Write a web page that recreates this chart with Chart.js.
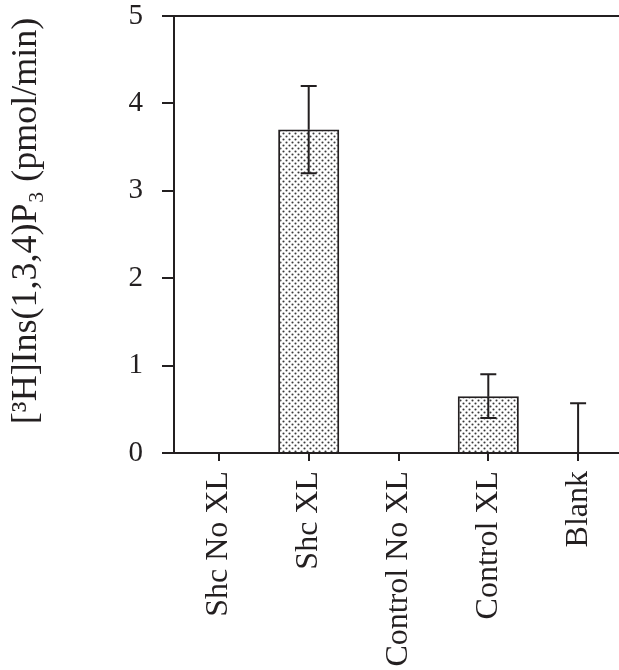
<!DOCTYPE html>
<html>
<head>
<meta charset="utf-8">
<script src="https://cdn.jsdelivr.net/npm/chart.js@4.4.0/dist/chart.umd.min.js"></script>
<style>
  html, body { margin: 0; padding: 0; background: #ffffff; overflow: hidden; }
  #wrap { width: 623px; height: 670px; }
</style>
</head>
<body>
<div id="wrap"><canvas id="c" width="623" height="670"></canvas></div>
<script>
// ---- data ----
const categories = ["Shc No XL", "Shc XL", "Control No XL", "Control XL", "Blank"];
const meanValues = [0, 3.7, 0, 0.65, 0];
const errorValues = [null, 0.5, null, 0.25, 0.57];
const yTicks = [0, 1, 2, 3, 4, 5];
const yTitle = "   [³H]Ins(1,3,4)P₃ (pmol/min)";

const INK = "#231f20";
const SERIF = "'Liberation Serif', 'Times New Roman', serif";

// stipple pattern for bar fill
function makeStipple() {
  const t = document.createElement("canvas");
  t.width = 6; t.height = 6;
  const g = t.getContext("2d");
  g.fillStyle = "#ffffff";
  g.fillRect(0, 0, 6, 6);
  g.fillStyle = "#3a3a3a";
  g.beginPath(); g.arc(1.5, 1.5, 1.05, 0, Math.PI * 2); g.fill();
  g.beginPath(); g.arc(4.5, 4.5, 1.05, 0, Math.PI * 2); g.fill();
  return document.getElementById("c").getContext("2d").createPattern(t, "repeat");
}

const errorBarPlugin = {
  id: "errorBars",
  afterDatasetsDraw(chart) {
    const ctx = chart.ctx;
    const meta = chart.getDatasetMeta(0);
    const ys = chart.scales.y;
    ctx.save();
    ctx.strokeStyle = INK;
    ctx.lineWidth = 2;
    meta.data.forEach((bar, i) => {
      const err = errorValues[i];
      if (err === null || err === undefined) return;
      const v = meanValues[i];
      const x = bar.x;
      const yTop = ys.getPixelForValue(v + err);
      const yMid = ys.getPixelForValue(v);
      const cap = 8;
      ctx.beginPath();
      ctx.moveTo(x, yTop); ctx.lineTo(x, yMid);
      ctx.moveTo(x - cap, yTop); ctx.lineTo(x + cap, yTop);
      ctx.stroke();
      if (v - err > 0) {
        const yBot = ys.getPixelForValue(v - err);
        ctx.beginPath();
        ctx.moveTo(x, yMid); ctx.lineTo(x, yBot);
        ctx.moveTo(x - cap, yBot); ctx.lineTo(x + cap, yBot);
        ctx.stroke();
      }
    });
    ctx.restore();
  }
};

const frameLines = {
  id: "frameLines",
  afterDraw(chart) {
    const ctx = chart.ctx;
    const a = chart.chartArea;
    ctx.save();
    ctx.strokeStyle = INK;
    ctx.lineWidth = 2;
    ctx.beginPath();
    ctx.moveTo(a.left - 12, a.top);
    ctx.lineTo(chart.width, a.top);
    ctx.moveTo(a.left - 12, a.bottom);
    ctx.lineTo(chart.width, a.bottom);
    ctx.stroke();
    ctx.restore();
  }
};

new Chart(document.getElementById("c"), {
  type: "bar",
  data: {
    labels: categories,
    datasets: [{
      data: meanValues,
      backgroundColor: makeStipple(),
      borderColor: INK,
      borderWidth: 2,
      borderSkipped: "bottom",
      barPercentage: 0.68,
      categoryPercentage: 1.0
    }]
  },
  options: {
    responsive: false,
    animation: false,
    devicePixelRatio: 1,
    layout: { padding: { top: 0, left: 0, right: 0, bottom: 0 } },
    plugins: { legend: { display: false }, tooltip: { enabled: false } },
    scales: {
      x: {
        grid: { display: true, drawOnChartArea: false, offset: false, tickLength: 8, color: INK, lineWidth: 2 },
        border: { display: true, color: INK, width: 2 },
        ticks: {
          color: INK,
          font: { family: SERIF, size: 32, lineHeight: 1.0 },
          maxRotation: 90, minRotation: 90, padding: 10, autoSkip: false
        },
        afterFit(scale) {
          scale.height = 670 - 453;
          scale.paddingTop = 0; scale.paddingBottom = 0;
          scale.paddingLeft = 0; scale.paddingRight = 0;
        }
      },
      y: {
        min: 0, max: 5,
        afterBuildTicks(scale) { scale.ticks = yTicks.map(v => ({ value: v })); },
        grid: { display: true, drawOnChartArea: false, tickLength: 12, color: INK, lineWidth: 2 },
        border: { display: true, color: INK, width: 2 },
        ticks: {
          color: INK,
          font: { family: SERIF, size: 29, lineHeight: 1.0 },
          padding: 19
        },
        title: {
          display: true,
          text: yTitle,
          color: INK,
          font: { family: SERIF, size: 36, lineHeight: 1.2 },
          padding: { top: 5, bottom: 0 }
        },
        afterFit(scale) {
          scale.width = 174;
          scale.paddingTop = 16; scale.paddingBottom = 0;
        }
      }
    }
  },
  plugins: [errorBarPlugin, frameLines]
});
</script>
</body>
</html>
